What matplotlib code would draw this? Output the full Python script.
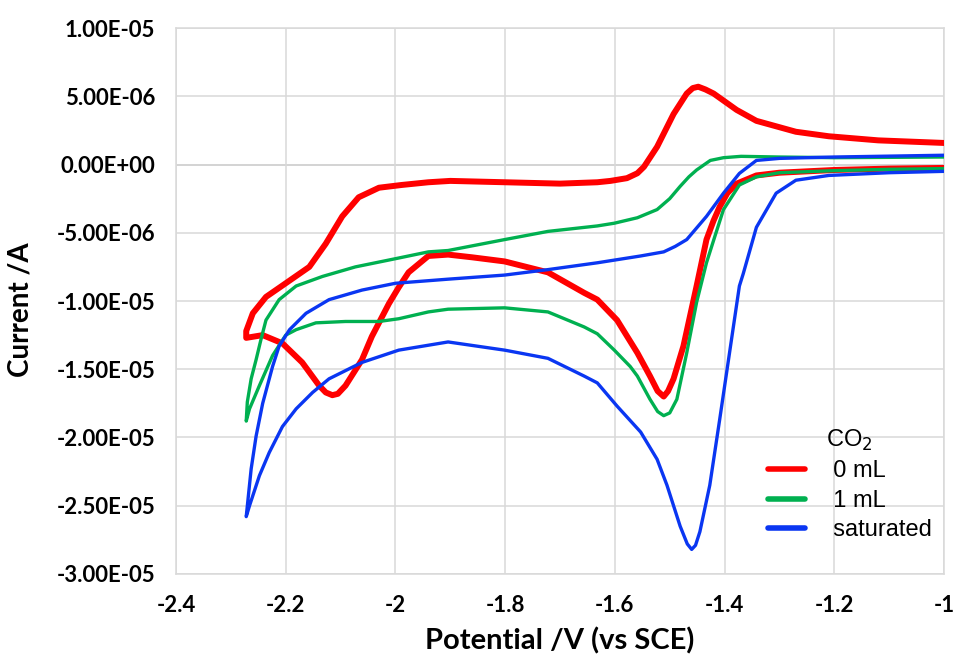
"""Cyclic voltammograms of the complex under increasing CO2."""
import numpy as np
import matplotlib
matplotlib.use('Agg')
from matplotlib import pyplot as plt


colours = {'0 mL': '#FF0000',
           '1 mL': '#00B050',
           'saturated': '#0A36F2'}

#
# Data (current in uA)
#

## 0 mL : cathodic sweep then return sweep
v_red = [-1.00, -1.10, -1.20, -1.30, -1.342, -1.378, -1.395, -1.409, -1.42,
         -1.433, -1.451, -1.475, -1.493, -1.503, -1.511, -1.522, -1.536,
         -1.559, -1.596, -1.632, -1.656, -1.722, -1.801, -1.860, -1.904,
         -1.94, -1.976, -1.994, -2.012, -2.043, -2.061, -2.091, -2.105,
         -2.115, -2.127, -2.139, -2.17, -2.206, -2.242, -2.272,
         -2.272, -2.26, -2.236, -2.20, -2.157, -2.127, -2.097, -2.067, -2.03,
         -1.989, -1.94, -1.90, -1.80, -1.70, -1.632, -1.608, -1.578, -1.559,
         -1.547, -1.523, -1.493, -1.469, -1.458, -1.448, -1.435, -1.42,
         -1.378, -1.342, -1.27, -1.21, -1.12, -1.00]
i_red = [-0.25, -0.3, -0.4, -0.6, -0.8, -1.4, -2.1, -3.1, -4.1,
         -5.5, -8.9, -13.3, -15.7, -16.6, -17.0, -16.6, -15.5,
         -13.8, -11.4, -9.9, -9.4, -7.9, -7.1, -6.8, -6.6,
         -6.7, -7.9, -9.0, -10.2, -12.6, -14.3, -16.2, -16.8,
         -16.9, -16.7, -16.2, -14.5, -13.1, -12.5, -12.7,
         -12.2, -10.9, -9.7, -8.7, -7.5, -5.8, -3.8, -2.4, -1.7,
         -1.5, -1.3, -1.2, -1.3, -1.4, -1.3, -1.2, -1.0, -0.64,
         -0.17, 1.3, 3.7, 5.2, 5.6, 5.7, 5.5, 5.2,
         4.0, 3.2, 2.4, 2.07, 1.77, 1.58]

## 1 mL
v_green = [-1.00, -1.10, -1.20, -1.30, -1.342, -1.373, -1.402, -1.418, -1.433,
           -1.451, -1.469, -1.487, -1.500, -1.511, -1.522, -1.536, -1.559,
           -1.572, -1.601, -1.632, -1.656, -1.722, -1.801, -1.904, -1.94,
           -1.994, -2.03, -2.091, -2.145, -2.181, -2.20, -2.224, -2.248,
           -2.266, -2.272,
           -2.27, -2.263, -2.254, -2.245, -2.236, -2.212, -2.181, -2.133,
           -2.073, -2.0, -1.94, -1.904, -1.801, -1.722, -1.632, -1.601,
           -1.559, -1.523, -1.500, -1.481, -1.465, -1.451, -1.426, -1.402,
           -1.37, -1.3, -1.2, -1.0]
i_green = [-0.3, -0.35, -0.45, -0.6, -0.9, -1.5, -3.3, -5.3, -7.2,
           -10.1, -13.8, -17.2, -18.2, -18.4, -18.1, -17.2, -15.5,
           -14.8, -13.6, -12.4, -11.9, -10.8, -10.5, -10.6, -10.8,
           -11.3, -11.5, -11.5, -11.6, -12.1, -12.5, -14.0, -16.2,
           -17.9, -18.8,
           -17.4, -15.7, -14.3, -12.8, -11.4, -9.9, -8.9, -8.2,
           -7.5, -6.9, -6.4, -6.3, -5.5, -4.9, -4.5, -4.3,
           -3.9, -3.3, -2.5, -1.6, -0.9, -0.4, 0.3, 0.5,
           0.6, 0.55, 0.5, 0.55]

## saturated
v_blue = [-1.00, -1.10, -1.21, -1.27, -1.306, -1.342, -1.366, -1.373, -1.391,
          -1.409, -1.427, -1.445, -1.453, -1.46, -1.468, -1.481, -1.505,
          -1.523, -1.553, -1.596, -1.632, -1.656, -1.722, -1.801, -1.904,
          -1.994, -2.061, -2.121, -2.151, -2.181, -2.206, -2.23, -2.248,
          -2.266, -2.272,
          -2.263, -2.254, -2.242, -2.224, -2.212, -2.193, -2.163, -2.121,
          -2.061, -2.0, -1.904, -1.801, -1.722, -1.632, -1.553, -1.511,
          -1.490, -1.469, -1.433, -1.402, -1.373, -1.342, -1.3, -1.2, -1.0]
i_blue = [-0.5, -0.6, -0.8, -1.15, -2.1, -4.6, -8.0, -8.9, -13.8,
          -18.7, -23.5, -26.9, -27.9, -28.2, -27.8, -26.5, -23.5,
          -21.6, -19.6, -17.7, -16.0, -15.5, -14.2, -13.6, -13.0,
          -13.6, -14.5, -15.7, -16.7, -17.9, -19.2, -21.1, -22.8,
          -25.0, -25.8,
          -22.3, -19.9, -17.5, -14.8, -13.3, -12.1, -10.9, -9.9,
          -9.2, -8.7, -8.4, -8.1, -7.7, -7.2, -6.7, -6.4,
          -6.0, -5.5, -3.8, -2.1, -0.65, 0.3, 0.45, 0.55, 0.68]

x_ticks = [-2.4, -2.2, -2.0, -1.8, -1.6, -1.4, -1.2, -1.0]
x_labels = ['-2.4', '-2.2', '-2', '-1.8', '-1.6', '-1.4', '-1.2', '-1']
y_ticks = [1e-5, 5e-6, 0, -5e-6, -1e-5, -1.5e-5, -2e-5, -2.5e-5, -3e-5]
y_labels = ['1.00E-05', '5.00E-06', '0.00E+00', '-5.00E-06', '-1.00E-05',
            '-1.50E-05', '-2.00E-05', '-2.50E-05', '-3.00E-05']


#
# Plot
#
plt.rcParams['font.family'] = ['Lato', 'DejaVu Sans']

fig = plt.figure(figsize=(9.55, 6.55), dpi=100)
ax = fig.add_axes([0.1843, 0.1237, 0.8042, 0.8335])

series = [('0 mL', v_red, i_red, 4.3),
          ('1 mL', v_green, i_green, 2.4),
          ('saturated', v_blue, i_blue, 2.4)]
for name, v, i, lw in series:
    ax.plot(v, np.array(i) * 1e-6, '-', color=colours[name], lw=lw,
            solid_joinstyle='round', solid_capstyle='round',
            label='  ' + name, zorder=3)

ax.set_xlim(-2.4, -1.0)
ax.set_ylim(-3e-5, 1e-5)
ax.set_xticks(x_ticks)
ax.set_xticklabels(x_labels)
ax.set_yticks(y_ticks)
ax.set_yticklabels(y_labels)
ax.grid(True, color='#D9D9D9', lw=1.1, zorder=0)
ax.axhline(0, color='#BFBFBF', lw=1.3, zorder=1)
for s in ax.spines.values():
    s.set_color('#D9D9D9')
    s.set_linewidth(1.1)
ax.tick_params(length=0, pad=15, labelsize=16)
for lab in ax.get_xticklabels() + ax.get_yticklabels():
    lab.set_fontweight('bold')

ax.set_xlabel('Potential /V (vs SCE)', fontsize=21, fontweight='bold',
              labelpad=8)
ax.set_ylabel('Current /A', fontsize=20, fontweight='bold')
ax.yaxis.set_label_coords(-0.186, 0.485)

leg = ax.legend(loc='upper left', bbox_to_anchor=(0.755, 0.29),
                frameon=False, title='CO$_2$', handlelength=1.6,
                handletextpad=0.6, labelspacing=0.32, borderpad=0,
                prop={'family': 'Liberation Sans', 'size': 17})
leg.get_title().set_fontfamily('Liberation Sans')
leg.get_title().set_fontsize(17)
for h in leg.get_lines():
    h.set_linewidth(4)

plt.savefig('out.png', dpi=100)
